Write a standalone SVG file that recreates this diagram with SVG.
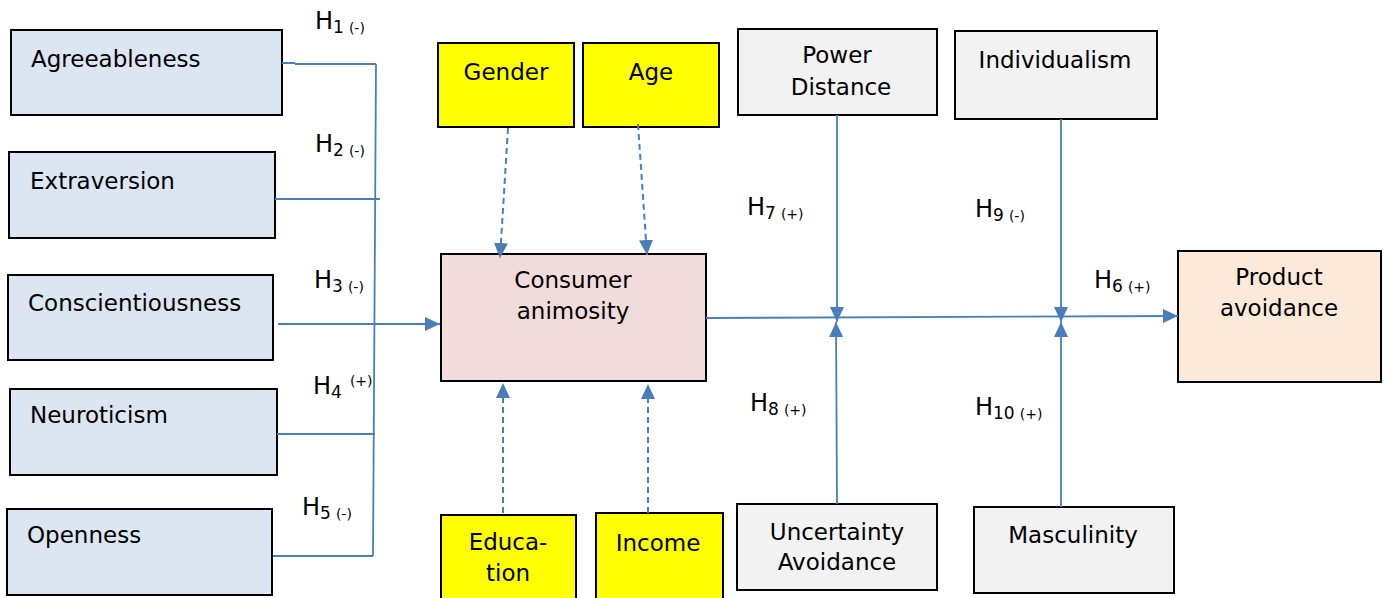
<svg xmlns="http://www.w3.org/2000/svg" width="1388" height="598" viewBox="0 0 1388 598">
<style>
.t{font-family:"DejaVu Sans","Noto Sans",sans-serif;font-size:23px;fill:#000}
.h{font-family:"DejaVu Sans","Noto Sans",sans-serif;font-size:24px;fill:#000}
.s{font-size:17px}
.p{font-size:14px}
.blue{fill:#dce6f2;stroke:#000;stroke-width:2}
.yel{fill:#ffff00;stroke:#000;stroke-width:2}
.grey{fill:#f2f2f2;stroke:#000;stroke-width:2}
.c{stroke:#4a7ebb;stroke-width:1.8;fill:none}
.d{stroke:#4a7ebb;stroke-width:2;fill:none;stroke-dasharray:6 4}
</style>
<defs>
<marker id="a" markerUnits="userSpaceOnUse" markerWidth="16" markerHeight="14" refX="15" refY="7" orient="auto"><path d="M0,0 L15,7 L0,14 Z" fill="#4a7ebb"/></marker>
</defs>
<rect width="1388" height="598" fill="#fff"/>
<g id="agreeableness"><rect class="blue" x="11" y="30" width="271" height="85"/><text class="t" x="31" y="67">Agreeableness</text></g>
<g id="extraversion"><rect class="blue" x="9" y="152" width="266" height="86"/><text class="t" x="30" y="189">Extraversion</text></g>
<g id="conscientiousness"><rect class="blue" x="8" y="275" width="265" height="85"/><text class="t" x="28" y="311">Conscientiousness</text></g>
<g id="neuroticism"><rect class="blue" x="10" y="389" width="267" height="86"/><text class="t" x="30" y="423">Neuroticism</text></g>
<g id="openness"><rect class="blue" x="7" y="509" width="265" height="86"/><text class="t" x="27" y="543">Openness</text></g>
<g id="gender"><rect class="yel" x="438" y="43" width="136" height="84"/><text class="t" x="506" y="80" text-anchor="middle">Gender</text></g>
<g id="age"><rect class="yel" x="583" y="43" width="136" height="84"/><text class="t" x="651" y="80" text-anchor="middle">Age</text></g>
<g id="consumer-animosity"><rect fill="#f2dcdb" stroke="#000" stroke-width="2" x="441" y="254" width="265" height="127"/><text class="t" x="573" y="288" text-anchor="middle">Consumer</text><text class="t" x="573" y="319" text-anchor="middle">animosity</text></g>
<g id="education"><rect class="yel" x="441" y="515" width="135" height="90"/><text class="t" x="508" y="550" text-anchor="middle">Educa-</text><text class="t" x="508" y="581" text-anchor="middle">tion</text></g>
<g id="income"><rect class="yel" x="596" y="513" width="127" height="92"/><text class="t" x="658" y="551" text-anchor="middle">Income</text></g>
<g id="power-distance"><rect class="grey" x="738" y="29" width="199" height="86"/><text class="t" x="837" y="63" text-anchor="middle">Power</text><text class="t" x="841" y="95" text-anchor="middle">Distance</text></g>
<g id="individualism"><rect class="grey" x="955" y="31" width="202" height="88"/><text class="t" x="1055" y="68" text-anchor="middle">Individualism</text></g>
<g id="uncertainty-avoidance"><rect class="grey" x="737" y="504" width="200" height="86"/><text class="t" x="837" y="540" text-anchor="middle">Uncertainty</text><text class="t" x="837" y="570" text-anchor="middle">Avoidance</text></g>
<g id="masculinity"><rect class="grey" x="974" y="507" width="200" height="86"/><text class="t" x="1073" y="543" text-anchor="middle">Masculinity</text></g>
<g id="product-avoidance"><rect fill="#fde9d9" stroke="#000" stroke-width="2" x="1178" y="251" width="203" height="131"/><text class="t" x="1279" y="285" text-anchor="middle">Product</text><text class="t" x="1279" y="316" text-anchor="middle">avoidance</text></g>
<g id="connectors">
<path class="c" d="M282,63 H295 M295,64 H376 M376,64 L373,556 M275,199 H380 M277,434 H375 M273,556 H373"/>
<path class="c" d="M278,324 H440" marker-end="url(#a)"/>
<path class="c" d="M373,324 H397" stroke-width="3"/>
<path class="d" d="M508,128 L500,258" marker-end="url(#a)"/>
<path class="d" d="M638,124 L647,255" marker-end="url(#a)"/>
<path class="d" d="M503,513 V383" marker-end="url(#a)"/>
<path class="d" d="M648,513 V384" marker-end="url(#a)"/>
<path class="c" d="M706,318 L1178,316" marker-end="url(#a)"/>
<path class="c" d="M837,115 V322" marker-end="url(#a)"/>
<path class="c" d="M1061,119 V322" marker-end="url(#a)"/>
<path class="c" d="M837,504 L836,322" marker-end="url(#a)"/>
<path class="c" d="M1061,507 V322" marker-end="url(#a)"/>
</g>
<g id="labels">
<text class="h" x="315" y="29">H<tspan class="s" dy="4">1</tspan><tspan class="p" dx="5">(-)</tspan></text>
<text class="h" x="315" y="152">H<tspan class="s" dy="4">2</tspan><tspan class="p" dx="5">(-)</tspan></text>
<text class="h" x="314" y="288">H<tspan class="s" dy="4">3</tspan><tspan class="p" dx="5">(-)</tspan></text>
<text class="h" x="313" y="394">H<tspan class="s" dy="4">4</tspan><tspan class="p" dx="8" dy="-12">(+)</tspan></text>
<text class="h" x="302" y="515">H<tspan class="s" dy="4">5</tspan><tspan class="p" dx="5">(-)</tspan></text>
<text class="h" x="747" y="215">H<tspan class="s" dy="4">7</tspan><tspan class="p" dx="5">(+)</tspan></text>
<text class="h" x="975" y="217">H<tspan class="s" dy="4">9</tspan><tspan class="p" dx="5">(-)</tspan></text>
<text class="h" x="1094" y="288">H<tspan class="s" dy="4">6</tspan><tspan class="p" dx="5">(+)</tspan></text>
<text class="h" x="750" y="411">H<tspan class="s" dy="4">8</tspan><tspan class="p" dx="5">(+)</tspan></text>
<text class="h" x="975" y="415">H<tspan class="s" dy="4">10</tspan><tspan class="p" dx="5">(+)</tspan></text>
</g>
</svg>
